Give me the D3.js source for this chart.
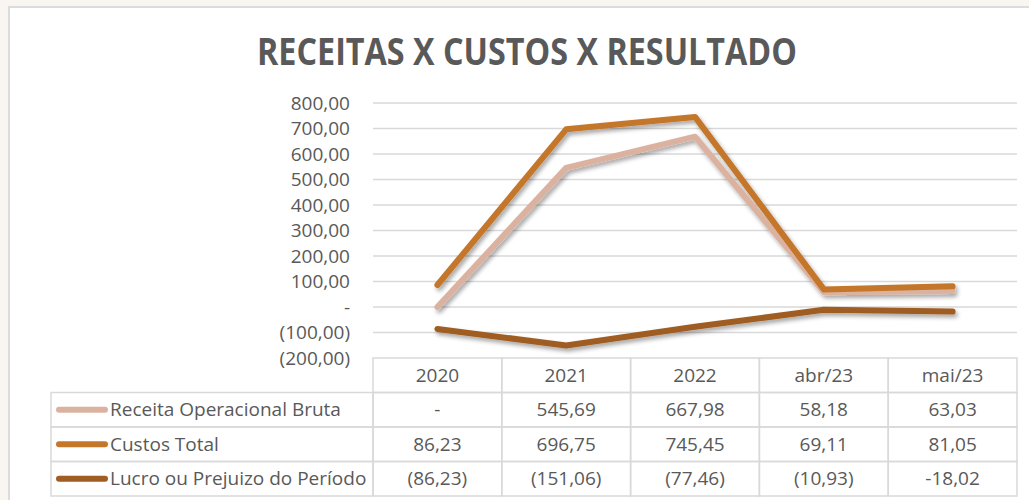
<html>
<head>
<meta charset="utf-8">
<script src="https://d3js.org/d3.v7.min.js"></script>
<style>
  body { margin: 0; background: #f9f5f1; }
  text { fill: #595959; font-family: "Open Sans", sans-serif; }
  .title { font-weight: bold; }
  line.grid { stroke: #d9d9d9; stroke-width: 1.5; }
  .cell { fill: none; stroke: #d9d9d9; stroke-width: 1.5; }
</style>
</head>
<body>
<svg></svg>
<script>
const categories = ["2020", "2021", "2022", "abr/23", "mai/23"];
const seriesNames = ["Receita Operacional Bruta", "Custos Total", "Lucro ou Prejuizo do Período"];
const receita = [0, 545.69, 667.98, 58.18, 63.03];
const custos = [86.23, 696.75, 745.45, 69.11, 81.05];
const lucro = [-86.23, -151.06, -77.46, -10.93, -18.02];
const tableText = [
    ["-", "545,69", "667,98", "58,18", "63,03"],
    ["86,23", "696,75", "745,45", "69,11", "81,05"],
    ["(86,23)", "(151,06)", "(77,46)", "(10,93)", "-18,02"]
];
const yTicks = [-200, -100, 0, 100, 200, 300, 400, 500, 600, 700, 800];
const colors = ["#dbb2a0", "#c4772b", "#a05d24"];

const W = 1029, H = 500;
const svg = d3.select("svg").attr("width", W).attr("height", H);

// frame
svg.append("rect")
    .attr("x", 9).attr("y", 7).attr("width", W + 20).attr("height", H + 20)
    .attr("fill", "#fff").attr("stroke", "#dcdcdc").attr("stroke-width", 2);

svg.append("text").classed("title", true)
    .attr("x", 527).attr("y", 65)
    .attr("text-anchor", "middle")
    .attr("textLength", 540).attr("lengthAdjust", "spacingAndGlyphs")
    .style("font-size", "37px")
    .text("RECEITAS X CUSTOS X RESULTADO");

const defs = svg.append("defs");
const f = defs.append("filter").attr("id", "shadow")
    .attr("x", "-10%").attr("y", "-10%").attr("width", "130%").attr("height", "140%");
f.append("feDropShadow").attr("dx", 2).attr("dy", 3).attr("stdDeviation", 2)
    .attr("flood-color", "#000").attr("flood-opacity", 0.35);

const x = d3.scaleBand().domain(categories).range([373, 1017]);
const y = d3.scaleLinear().domain([-200, 800]).range([358, 103]);

const fmt = d3.format(",.2f");
function tickFmt(v) {
    if (v === 0) return "-";
    let s = fmt(Math.abs(v)).replace(".", ",");
    return v < 0 ? "(" + s + ")" : s;
}

svg.selectAll("line.grid")
    .data(yTicks.filter(d => d > -200))
    .enter().append("line").classed("grid", true)
    .attr("x1", x.range()[0]).attr("x2", x.range()[1])
    .attr("y1", d => y(d)).attr("y2", d => y(d));

svg.selectAll("text.ytick")
    .data(yTicks)
    .enter().append("text").classed("ytick", true)
    .attr("x", 350).attr("y", d => y(d))
    .attr("dy", "0.35em")
    .attr("text-anchor", "end")
    .style("font-size", "19px")
    .text(tickFmt);

// lines
const allSeries = [receita, custos, lucro];
const line = d3.line()
    .x((d, i) => x(categories[i]) + x.bandwidth() / 2)
    .y(d => y(d));

svg.append("g").attr("filter", "url(#shadow)")
    .selectAll("path.series")
    .data(allSeries)
    .enter().append("path").classed("series", true)
    .attr("d", line)
    .attr("fill", "none")
    .attr("stroke", (d, i) => colors[i])
    .attr("stroke-width", 6)
    .attr("stroke-linecap", "round")
    .attr("stroke-linejoin", "round");

// data table
const headTop = 358, rowH = 34.5, labelLeft = 51;
const table = svg.append("g");

table.selectAll("rect.head")
    .data(categories)
    .enter().append("rect").classed("cell", true)
    .attr("x", d => x(d)).attr("y", headTop)
    .attr("width", x.bandwidth()).attr("height", rowH);

table.selectAll("text.head")
    .data(categories)
    .enter().append("text")
    .attr("x", d => x(d) + x.bandwidth() / 2)
    .attr("y", headTop + rowH / 2).attr("dy", "0.35em")
    .attr("text-anchor", "middle")
    .style("font-size", "19px")
    .text(d => d);

seriesNames.forEach((name, r) => {
    const top = headTop + rowH * (r + 1);
    const row = table.append("g");
    row.append("rect").classed("cell", true)
        .attr("x", labelLeft).attr("y", top)
        .attr("width", x.range()[0] - labelLeft).attr("height", rowH);
    row.append("line")
        .attr("x1", 59).attr("x2", 105)
        .attr("y1", top + rowH / 2).attr("y2", top + rowH / 2)
        .attr("stroke", colors[r]).attr("stroke-width", 6)
        .attr("stroke-linecap", "round");
    row.append("text")
        .attr("x", 110).attr("y", top + rowH / 2).attr("dy", "0.35em")
        .style("font-size", "19px")
        .text(name);
    row.selectAll("rect.v")
        .data(categories)
        .enter().append("rect").classed("cell", true)
        .attr("x", d => x(d)).attr("y", top)
        .attr("width", x.bandwidth()).attr("height", rowH);
    row.selectAll("text.v")
        .data(tableText[r])
        .enter().append("text")
        .attr("x", (d, i) => x(categories[i]) + x.bandwidth() / 2)
        .attr("y", top + rowH / 2).attr("dy", "0.35em")
        .attr("text-anchor", "middle")
        .style("font-size", "19px")
        .text(d => d);
});
</script>
</body>
</html>
